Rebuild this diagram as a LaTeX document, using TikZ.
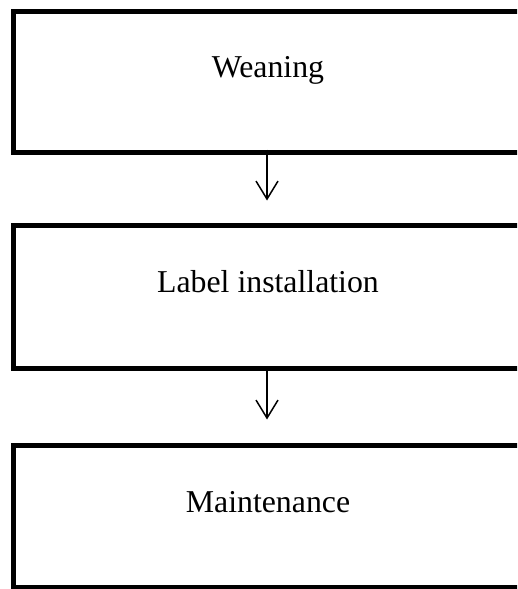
\documentclass[tikz,border=0pt]{standalone}
\usepackage{fontspec}
\setmainfont{Liberation Serif}
\usetikzlibrary{arrows.meta}
\begin{document}
\begin{tikzpicture}[x=1pt,y=-1pt,
  stepbox/.style={draw, line width=5pt, rectangle, minimum width=510pt,
    inner sep=0pt, text height=22pt, text depth=30pt,
    font=\fontsize{31.8}{36}\selectfont},
  flow/.style={line width=1.5pt, -{Straight Barb[length=18pt,width=22pt,line width=1.5pt]}}]
\useasboundingbox (0,0) rectangle (517,589);
\begin{scope}
\clip (0,0) rectangle (517,589);
\node[stepbox, minimum height=141pt] (w) at (268,81.5) {Weaning};
\node[stepbox, minimum height=143pt] (l) at (268,296.5) {Label installation};
\node[stepbox, minimum height=142pt] (m) at (268,516) {Maintenance};
\end{scope}
\draw[flow, shorten <=-5pt, shorten >=22pt] ([xshift=-1pt]w.south) -- ([xshift=-1pt]l.north);
\draw[flow, shorten >=23pt] ([xshift=-1pt]l.south) -- ([xshift=-1pt]m.north);
\end{tikzpicture}
\end{document}
